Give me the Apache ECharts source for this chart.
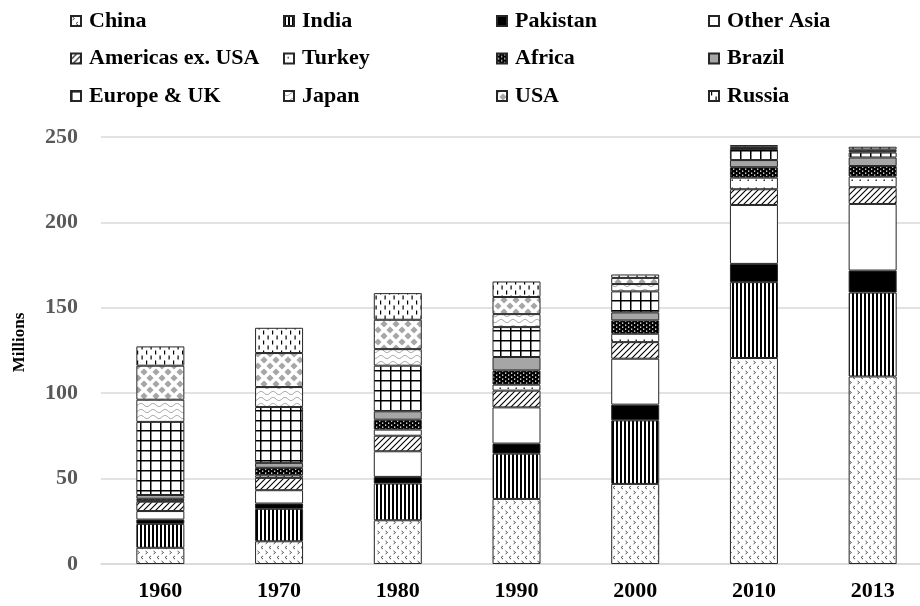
<!DOCTYPE html>
<html>
<head>
<meta charset="utf-8">
<title>Millions by region</title>
<script src="https://cdn.jsdelivr.net/npm/echarts@6/dist/echarts.min.js"></script>
<style>
  html, body { margin: 0; padding: 0; background: #fff; }
  #main { width: 920px; height: 606px; }
</style>
</head>
<body>
<div id="main"></div>
<script>
// categories
var years = ["1960", "1970", "1980", "1990", "2000", "2010", "2013"];
var yTicks = [0, 50, 100, 150, 200, 250];

// series values (millions), stacked bottom -> top
var china      = [9.5, 13.3, 25.6, 38.1, 46.9, 120.6, 109.8];
var india      = [14.0, 19.0, 21.5, 26.5, 37.2, 44.4, 49.1];
var pakistan   = [2.5, 3.1, 3.9, 5.9, 9.2, 10.7, 12.9];
var otherAsia  = [5.0, 7.8, 15.0, 21.2, 26.9, 34.5, 39.0];
var americas   = [5.5, 7.2, 9.1, 9.8, 9.7, 9.2, 9.8];
var turkey     = [0.5, 1.5, 3.6, 3.5, 4.9, 6.8, 6.2];
var africa     = [1.2, 4.4, 5.8, 8.3, 7.8, 6.1, 6.2];
var brazil     = [2.2, 2.9, 4.9, 7.9, 4.7, 4.2, 5.0];
var europe     = [42.8, 32.7, 26.7, 17.5, 12.3, 6.5, 2.9];
var japan      = [13.0, 11.7, 9.7, 7.6, 4.3, 0.6, 0.8];
var usa        = [19.9, 19.9, 17.2, 10.0, 3.6, 0.7, 1.0];
var russia     = [11.3, 14.8, 15.6, 9.1, 2.0, 1.0, 1.6];

var FONT = "Liberation Serif";

// small canvas tiles used as fill patterns
function tile(w, h, bg, draw) {
  var c = document.createElement("canvas");
  c.width = w;
  c.height = h;
  var ctx = c.getContext("2d");
  ctx.fillStyle = bg;
  ctx.fillRect(0, 0, w, h);
  if (draw) draw(ctx);
  return { image: c, repeat: "repeat" };
}

var fills = {
  china: tile(8, 10, "#fff", function (ctx) {
    ctx.strokeStyle = "#555";
    ctx.lineWidth = 1;
    ctx.beginPath(); // ">"
    ctx.moveTo(1.5, 1); ctx.lineTo(3.5, 2.5); ctx.lineTo(1.5, 4);
    ctx.stroke();
    ctx.beginPath(); // "<"
    ctx.moveTo(7, 6); ctx.lineTo(5, 7.5); ctx.lineTo(7, 9);
    ctx.stroke();
  }),
  india: tile(4, 4, "#fff", function (ctx) {
    ctx.fillStyle = "#000";
    ctx.fillRect(0, 0, 2, 4);
  }),
  pakistan: "#000",
  otherAsia: "#fff",
  americas: tile(6, 6, "#fff", function (ctx) {
    ctx.strokeStyle = "#000";
    ctx.lineWidth = 1.1;
    ctx.beginPath();
    ctx.moveTo(0, 6); ctx.lineTo(6, 0);
    ctx.moveTo(-1, 1); ctx.lineTo(1, -1);
    ctx.moveTo(5, 7); ctx.lineTo(7, 5);
    ctx.stroke();
  }),
  turkey: tile(8, 8, "#fff", function (ctx) {
    ctx.fillStyle = "#333";
    ctx.fillRect(3.5, 3.5, 1.5, 1.5);
  }),
  africa: tile(6, 4, "#000", function (ctx) {
    ctx.fillStyle = "#fff";
    ctx.fillRect(1, 0.5, 1.3, 1.3);
    ctx.fillRect(4, 2.5, 1.3, 1.3);
  }),
  brazil: "#a6a6a6",
  europe: tile(10, 10, "#fff", function (ctx) {
    ctx.fillStyle = "#000";
    ctx.fillRect(0, 0, 1.5, 10);
    ctx.fillRect(0, 0, 10, 1.5);
  }),
  japan: tile(12, 6, "#fff", function (ctx) {
    ctx.strokeStyle = "#9a9a9a";
    ctx.lineWidth = 1;
    ctx.beginPath();
    for (var x = 0; x <= 12; x += 0.5) {
      var y = 3 + 1.6 * Math.sin((x / 12) * Math.PI * 2);
      if (x === 0) ctx.moveTo(x, y); else ctx.lineTo(x, y);
    }
    ctx.stroke();
  }),
  usa: tile(12, 12, "#fff", function (ctx) {
    ctx.fillStyle = "#a6a6a6";
    var pts = [[0, 0], [12, 0], [0, 12], [12, 12], [6, 6]];
    pts.forEach(function (p) {
      ctx.beginPath();
      ctx.moveTo(p[0], p[1] - 3.6);
      ctx.lineTo(p[0] + 3.6, p[1]);
      ctx.lineTo(p[0], p[1] + 3.6);
      ctx.lineTo(p[0] - 3.6, p[1]);
      ctx.closePath();
      ctx.fill();
    });
  }),
  russia: tile(9, 10, "#fff", function (ctx) {
    ctx.fillStyle = "#000";
    ctx.fillRect(2, 0.5, 1.2, 4);
    ctx.fillRect(6.5, 5.5, 1.2, 4);
  })
};

var seriesDefs = [
  ["China", china, fills.china],
  ["India", india, fills.india],
  ["Pakistan", pakistan, fills.pakistan],
  ["Other Asia", otherAsia, fills.otherAsia],
  ["Americas ex. USA", americas, fills.americas],
  ["Turkey", turkey, fills.turkey],
  ["Africa", africa, fills.africa],
  ["Brazil", brazil, fills.brazil],
  ["Europe & UK", europe, fills.europe],
  ["Japan", japan, fills.japan],
  ["USA", usa, fills.usa],
  ["Russia", russia, fills.russia]
];

var series = seriesDefs.map(function (d) {
  return {
    name: d[0],
    type: "bar",
    stack: "total",
    barWidth: 48,
    data: d[1],
    itemStyle: { color: d[2], borderColor: "#262626", borderWidth: 1 },
    emphasis: { disabled: true },
    animation: false
  };
});

// legend: 4 columns x 3 rows, one vertical legend per column
var legendCols = [
  ["China", "Americas ex. USA", "Europe & UK"],
  ["India", "Turkey", "Japan"],
  ["Pakistan", "Africa", "USA"],
  ["Other Asia", "Brazil", "Russia"]
];
var legendLeft = [70, 283, 496, 708];
var legends = legendCols.map(function (col, i) {
  return {
    orient: "vertical",
    left: legendLeft[i],
    top: 9,
    padding: 0,
    itemGap: 13.5,
    itemWidth: 10,
    itemHeight: 10,
    icon: "rect",
    selectedMode: false,
    data: col,
    textStyle: {
      fontFamily: FONT,
      fontWeight: "bold",
      fontSize: 22,
      lineHeight: 24,
      color: "#000",
      padding: [0, 0, 0, 3]
    }
  };
});

var chart = echarts.init(document.getElementById("main"));
chart.setOption({
  backgroundColor: "#fff",
  animation: false,
  legend: legends,
  grid: {
    left: 101, right: -12, top: 137, bottom: 42,
    containLabel: false,
    outerBoundsMode: "none"
  },
  xAxis: {
    type: "category",
    data: years,
    axisTick: { show: false },
    axisLine: { lineStyle: { color: "#d9d9d9", width: 1.5 } },
    axisLabel: {
      margin: 16,
      fontFamily: FONT,
      fontWeight: "bold",
      fontSize: 22,
      color: "#000"
    }
  },
  yAxis: {
    type: "value",
    min: yTicks[0],
    max: yTicks[yTicks.length - 1],
    interval: 50,
    name: "Millions",
    nameLocation: "middle",
    nameGap: 73,
    nameTextStyle: {
      fontFamily: FONT,
      fontWeight: "bold",
      fontSize: 17,
      color: "#000",
      padding: [0, 0, 0, 16] // nudge the rotated title up a little
    },
    axisLine: { show: false },
    axisTick: { show: false },
    splitLine: { lineStyle: { color: "#d9d9d9", width: 1.5 } },
    axisLabel: {
      margin: 23,
      fontFamily: FONT,
      fontWeight: "bold",
      fontSize: 22,
      color: "#595959"
    }
  },
  series: series
});
</script>
</body>
</html>
